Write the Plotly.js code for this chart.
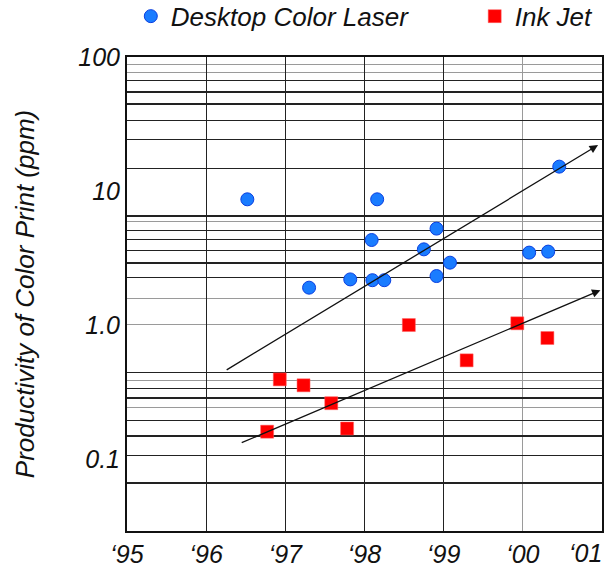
<!DOCTYPE html>
<html>
<head>
<meta charset="utf-8">
<script src="https://cdn.plot.ly/plotly-3.0.1.min.js"></script>
<style>
  html, body { margin: 0; padding: 0; background: #fff; }
  #chart { width: 605px; height: 569px; }
</style>
</head>
<body>
<div id="chart"></div>
<script>
// Desktop colour laser printers: introduction year and print speed (pages per minute)
const laserYears = [1996.52, 1998.16, 2000.46, 1998.91, 1998.09, 1998.75, 2000.08, 2000.32,
                    1999.08, 1997.82, 1998.10, 1998.25, 1998.91, 1997.30];
const laserPpm   = [8.67, 8.67, 15.2, 5.24, 4.31, 3.67, 3.47, 3.53,
                    2.92, 2.19, 2.16, 2.16, 2.32, 1.90];

// Ink jet printers
const inkYears = [1998.56, 1999.93, 2000.31, 1999.29, 1996.93, 1997.23, 1997.58, 1996.77, 1997.78];
const inkPpm   = [1.00, 1.03, 0.80, 0.545, 0.393, 0.355, 0.261, 0.160, 0.169];

// Trend arrows (start, end)
const laserTrendYears = [1996.24, 2000.95];
const laserTrendPpm   = [0.456, 22.0];
const inkTrendYears   = [1996.43, 2000.98];
const inkTrendPpm     = [0.131, 1.82];

// Axis labels
const yearTicks  = [1995, 1996, 1997, 1998, 1999, 2000, 2001];
const yearLabels = ['\u201895', '\u201896', '\u201897', '\u201898', '\u201899', '\u201800', '\u201801'];
const ppmTicks   = [0.1, 1, 10, 100];
const ppmLabels  = ['0.1', '1.0', '10', '100'];

// Ruling of the chart paper
const rulingThin  = [67.0, 44.6, 33.7, 24.3, 14.8, 5.05, 4.36, 3.58, 2.27, 0.4436, 0.3358, 0.1944, 0.1066];
const rulingHeavy = [55.1, 6.54, 2.92, 0.2838, 0.1484, 0.0659];
const rulingLight = [88.2, 76.4, 5.90, 1.58, 1.01, 0.3867, 0.2423];
const yearRuleDark  = [1996, 1997, 1998, 1999];
const yearRuleLight = [2000];

const FONT = 'Liberation Sans, Arial, Helvetica, sans-serif';
const INK = '#111111';
const yRange = [-1.537, 2];
const xRange = [1995, 2001];
const tickFont = { family: FONT, size: 25, color: INK, style: 'italic' };

// The last year label sits at the right border, so it is right-aligned to it
const last = yearTicks.length - 1;
const axisYearText = yearLabels.map((t, i) => (i === last ? '' : t));

const traces = [
  { x: [], y: [], xaxis: 'x2', yaxis: 'y2', showlegend: false, hoverinfo: 'skip' },
  { x: [], y: [], xaxis: 'x', yaxis: 'y3', showlegend: false, hoverinfo: 'skip' },
  {
    x: laserYears, y: laserPpm, type: 'scatter', mode: 'markers',
    name: 'Desktop Color Laser', legend: 'legend',
    marker: { symbol: 'circle', size: 13, color: '#1a7cff', line: { color: '#0a3fe0', width: 1 } }
  },
  {
    x: inkYears, y: inkPpm, type: 'scatter', mode: 'markers',
    name: 'Ink Jet', legend: 'legend2',
    marker: { symbol: 'square', size: 13, color: '#ff0000', line: { color: '#ff6060', width: 0.5 } }
  }
];

function arrow(xs, ys) {
  return {
    x: xs[1], y: Math.log10(ys[1]), ax: xs[0], ay: Math.log10(ys[0]),
    xref: 'x', yref: 'y', axref: 'x', ayref: 'y',
    text: '', showarrow: true, arrowhead: 2, arrowsize: 1.3, arrowwidth: 1.3,
    arrowcolor: INK, standoff: 0, startstandoff: 0
  };
}

const gridAxis = (extra) => Object.assign({
  type: 'log', range: yRange, overlaying: 'y', anchor: 'x',
  showticklabels: false, ticks: '', showline: false, zeroline: false,
  tickmode: 'array'
}, extra);

const legendStyle = (x) => ({
  orientation: 'h', x: x, xanchor: 'left', y: 1.086, yanchor: 'middle',
  font: { family: FONT, size: 26, color: INK, style: 'italic' },
  bgcolor: 'rgba(0,0,0,0)'
});

const layout = {
  width: 605, height: 569,
  margin: { l: 127, r: 3, t: 57, b: 38, autoexpand: false },
  paper_bgcolor: '#ffffff', plot_bgcolor: '#ffffff',
  font: { family: FONT, color: INK, style: 'italic' },
  showlegend: true,
  legend: legendStyle(0.008),
  legend2: legendStyle(0.732),
  xaxis: {
    range: xRange, tickmode: 'array', tickvals: yearTicks, ticktext: axisYearText,
    showgrid: false, zeroline: false, ticks: '',
    showline: true, mirror: true, linecolor: INK, linewidth: 2,
    tickfont: tickFont
  },
  xaxis2: {
    range: xRange, overlaying: 'x', anchor: 'y2', showticklabels: false, ticks: '',
    showline: false, zeroline: false, tickmode: 'array', tickvals: yearRuleDark,
    showgrid: true, gridcolor: '#222222', gridwidth: 1.3,
    minor: { tickmode: 'array', tickvals: yearRuleLight, showgrid: true, gridcolor: '#9a9a9a', gridwidth: 1.3, ticks: '' }
  },
  yaxis: {
    type: 'log', range: yRange, tickmode: 'array', tickvals: ppmTicks, ticktext: ppmLabels,
    showgrid: false, zeroline: false, ticks: '',
    showline: true, mirror: true, linecolor: INK, linewidth: 2,
    tickfont: tickFont,
    title: { text: 'Productivity of Color Print (ppm)', standoff: 36,
             font: { family: FONT, size: 26, color: INK, style: 'italic' } }
  },
  yaxis2: gridAxis({
    tickvals: rulingThin, showgrid: true, gridcolor: '#222222', gridwidth: 1.2,
    minor: { tickmode: 'array', tickvals: rulingLight, showgrid: true, gridcolor: '#9a9a9a', gridwidth: 1.2, ticks: '' }
  }),
  yaxis3: gridAxis({ tickvals: rulingHeavy, showgrid: true, gridcolor: '#222222', gridwidth: 2 }),
  annotations: [
    arrow(laserTrendYears, laserTrendPpm),
    arrow(inkTrendYears, inkTrendPpm),
    {
      x: yearTicks[last], xref: 'x', xanchor: 'right', xshift: 2,
      y: 0, yref: 'paper', yanchor: 'middle', yshift: -22,
      text: yearLabels[last], showarrow: false, font: tickFont
    }
  ]
};

Plotly.newPlot('chart', traces, layout, { displayModeBar: false, staticPlot: true });
</script>
</body>
</html>
